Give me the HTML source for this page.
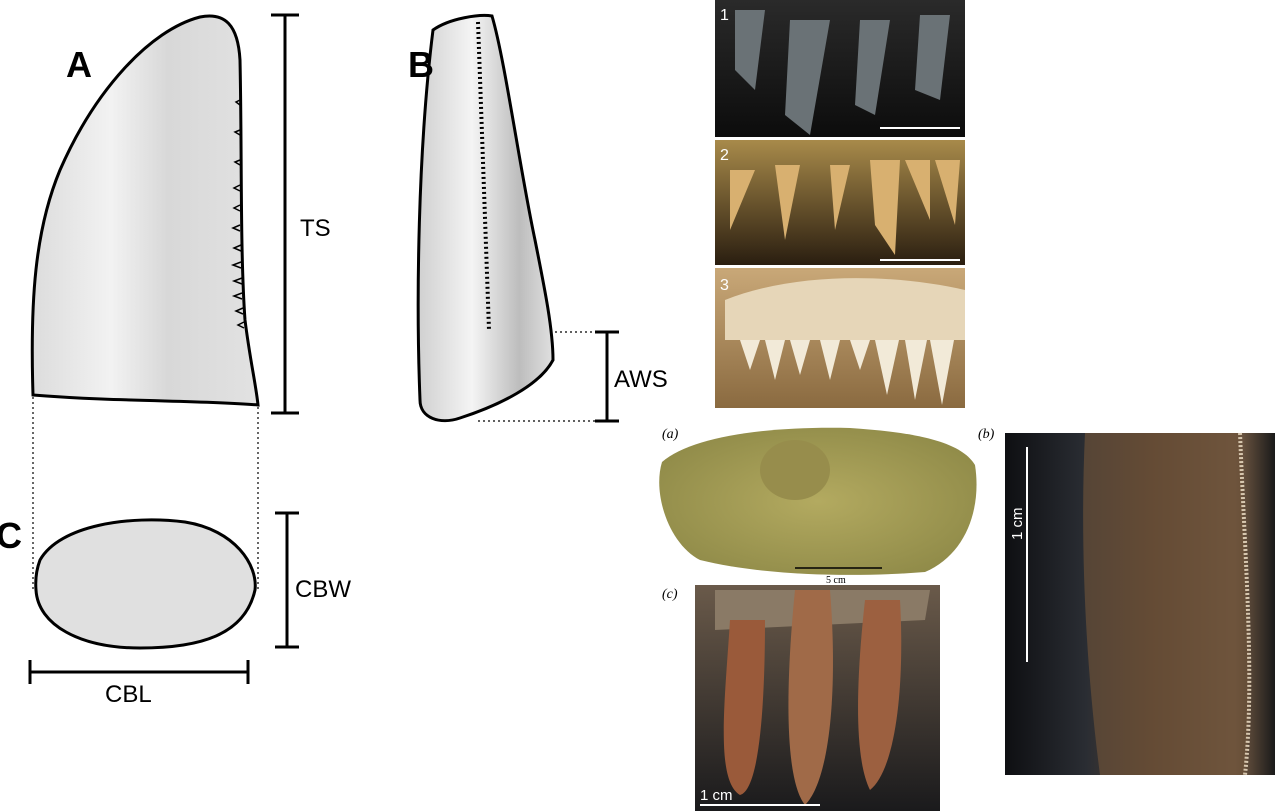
<!DOCTYPE html>
<html><head><meta charset="utf-8"><style>
html,body{margin:0;padding:0;background:#fff;}
body{width:1278px;height:811px;overflow:hidden;position:relative;font-family:"Liberation Sans",sans-serif;}
svg{position:absolute;left:0;top:0;}
</style></head><body>
<svg width="1278" height="811" viewBox="0 0 1278 811">
<defs>
<linearGradient id="gA" x1="0" x2="1" y1="0" y2="0">
<stop offset="0" stop-color="#dcdcdc"/><stop offset="0.35" stop-color="#f2f2f2"/><stop offset="0.6" stop-color="#d8d8d8"/><stop offset="1" stop-color="#e2e2e2"/></linearGradient>
<linearGradient id="gB" x1="0" x2="1" y1="0" y2="0">
<stop offset="0" stop-color="#d0d0d0"/><stop offset="0.4" stop-color="#f4f4f4"/><stop offset="0.75" stop-color="#bdbdbd"/><stop offset="1" stop-color="#e0e0e0"/></linearGradient>
<linearGradient id="p1" x1="0" x2="0" y1="0" y2="1"><stop offset="0" stop-color="#2a2a2a"/><stop offset="1" stop-color="#0c0c0c"/></linearGradient>
<linearGradient id="p2" x1="0" x2="0" y1="0" y2="1"><stop offset="0" stop-color="#a88a4a"/><stop offset="1" stop-color="#2a1e10"/></linearGradient>
<linearGradient id="p3" x1="0" x2="0" y1="0" y2="1"><stop offset="0" stop-color="#c9a878"/><stop offset="1" stop-color="#8a6a40"/></linearGradient>
<radialGradient id="pa" cx="0.5" cy="0.5" r="0.6"><stop offset="0" stop-color="#b3aa60"/><stop offset="1" stop-color="#8f8a48"/></radialGradient>
<linearGradient id="pc" x1="0" x2="0" y1="0" y2="1"><stop offset="0" stop-color="#6a5a4a"/><stop offset="1" stop-color="#1a1a1c"/></linearGradient>
<linearGradient id="pb" x1="0" x2="1" y1="0" y2="0"><stop offset="0" stop-color="#0e0f12"/><stop offset="0.3" stop-color="#2a2d33"/><stop offset="0.55" stop-color="#5a4230"/><stop offset="0.85" stop-color="#7b6048"/><stop offset="1" stop-color="#1a1a1a"/></linearGradient>
</defs>

<path d="M33,395 C30,300 35,230 60,170 C95,90 150,30 200,17 C225,12 238,25 240,60 C242,150 240,250 245,320 C250,360 256,385 258,405 C200,400 120,402 33,395 Z" fill="url(#gA)" stroke="#000" stroke-width="3"/>
<path d="M240,100 l-4,2 l4,3 M240,130 l-5,2 l5,3 M240,160 l-5,2 l5,3 M240,185 l-6,3 l6,3 M240,205 l-6,3 l6,3 M240,225 l-7,3 l7,3 M241,245 l-7,3 l7,3 M241,262 l-8,3 l8,3 M242,278 l-8,3 l8,3 M242,293 l-8,3 l8,3 M243,308 l-7,3 l7,3 M244,322 l-6,3 l6,3" fill="none" stroke="#000" stroke-width="1.5"/>
<text x="66" y="77" font-size="36" font-weight="bold">A</text>

<g stroke="#000" stroke-width="3">
<line x1="285" y1="15" x2="285" y2="413"/><line x1="271" y1="15" x2="299" y2="15"/><line x1="271" y1="413" x2="299" y2="413"/></g>
<text x="300" y="236" font-size="24">TS</text>

<g stroke="#000" stroke-width="1.2" stroke-dasharray="2,3">
<line x1="33" y1="397" x2="33" y2="590"/><line x1="258" y1="407" x2="258" y2="590"/>
<line x1="490" y1="332" x2="607" y2="332"/><line x1="478" y1="421" x2="607" y2="421"/></g>

<path d="M40,560 C60,525 130,515 185,522 C235,530 258,565 255,590 C245,635 200,648 140,648 C80,648 38,625 36,590 C35,578 37,568 40,560 Z" fill="#e0e0e0" stroke="#000" stroke-width="3"/>
<text x="-4" y="548" font-size="36" font-weight="bold">C</text>
<g stroke="#000" stroke-width="3">
<line x1="287" y1="513" x2="287" y2="647"/><line x1="275" y1="513" x2="299" y2="513"/><line x1="275" y1="647" x2="299" y2="647"/></g>
<text x="295" y="597" font-size="24">CBW</text>
<g stroke="#000" stroke-width="3">
<line x1="30" y1="672" x2="248" y2="672"/><line x1="30" y1="660" x2="30" y2="684"/><line x1="248" y1="660" x2="248" y2="684"/></g>
<text x="105" y="702" font-size="24">CBL</text>

<path d="M433,30 C450,18 480,14 492,16 C505,60 520,170 535,240 C545,290 553,330 553,360 C540,385 500,405 460,418 C440,425 420,418 420,400 C416,300 418,150 433,30 Z" fill="url(#gB)" stroke="#000" stroke-width="3"/>
<line x1="478" y1="22" x2="489" y2="330" stroke="#000" stroke-width="4" stroke-dasharray="2,3"/>
<text x="408" y="77" font-size="36" font-weight="bold">B</text>
<g stroke="#000" stroke-width="3">
<line x1="607" y1="332" x2="607" y2="421"/><line x1="595" y1="332" x2="619" y2="332"/><line x1="595" y1="421" x2="619" y2="421"/></g>
<text x="614" y="387" font-size="24">AWS</text>

<g>
<rect x="715" y="0" width="250" height="137" fill="url(#p1)"/>
<path d="M735,10 l30,0 l-10,80 l-20,-20 Z M790,20 l40,0 l-20,115 l-25,-20 Z M860,20 l30,0 l-15,95 l-20,-10 Z M920,15 l30,0 l-10,85 l-25,-10 Z" fill="#6a7276"/>
<line x1="880" y1="128" x2="960" y2="128" stroke="#fff" stroke-width="2"/>
<text x="720" y="20" font-size="16" fill="#fff">1</text>
<rect x="715" y="140" width="250" height="125" fill="url(#p2)"/>
<path d="M730,170 l25,0 l-25,60 Z M775,165 l25,0 l-15,75 Z M830,165 l20,0 l-15,65 Z M870,160 l30,0 l-5,95 l-20,-30 Z M905,160 l25,0 l0,60 Z M935,160 l25,0 l-5,65 Z" fill="#d8b070"/>
<line x1="880" y1="260" x2="960" y2="260" stroke="#fff" stroke-width="2"/>
<text x="720" y="160" font-size="16" fill="#fff">2</text>
<rect x="715" y="268" width="250" height="140" fill="url(#p3)"/>
<path d="M725,300 C800,270 900,275 965,290 L965,340 L725,340 Z" fill="#e6d6b8"/>
<path d="M740,340 l10,30 l10,-30 M765,340 l10,40 l10,-40 M790,340 l10,35 l10,-35 M820,340 l10,40 l10,-40 M850,340 l10,30 l10,-30 M875,340 l12,55 l12,-55 M905,340 l10,60 l12,-60 M930,340 l12,65 l12,-65" fill="#f2ead8"/>
<text x="720" y="290" font-size="16" fill="#fff">3</text>
</g>

<text x="662" y="438" font-size="14" font-style="italic" font-family="Liberation Serif">(a)</text>
<path d="M662,462 C690,438 760,426 850,428 C910,432 960,440 975,465 C982,510 965,555 925,572 C850,578 760,575 700,560 C670,545 652,495 662,462 Z" fill="url(#pa)"/>
<ellipse cx="795" cy="470" rx="35" ry="30" fill="#978d4c"/>
<line x1="795" y1="568" x2="882" y2="568" stroke="#000" stroke-width="1.5"/>
<text x="826" y="583" font-size="10" font-family="Liberation Serif">5 cm</text>
<text x="662" y="598" font-size="14" font-style="italic" font-family="Liberation Serif">(c)</text>
<g>
<rect x="695" y="585" width="245" height="226" fill="url(#pc)"/>
<path d="M715,590 L930,590 L925,620 L715,630 Z" fill="#8a7a66"/>
<path d="M730,620 C725,700 715,780 740,795 C760,790 765,700 765,620 Z" fill="#9a5a3a"/>
<path d="M795,590 C785,690 785,780 805,805 C830,780 838,690 830,590 Z" fill="#a06a48"/>
<path d="M865,600 C855,690 855,760 870,790 C895,770 905,690 900,600 Z" fill="#9c6040"/>
<line x1="700" y1="805" x2="820" y2="805" stroke="#fff" stroke-width="2"/>
<text x="700" y="800" font-size="15" fill="#fff">1 cm</text>
</g>
<text x="978" y="438" font-size="14" font-style="italic" font-family="Liberation Serif">(b)</text>
<g>
<rect x="1005" y="433" width="270" height="342" fill="url(#pb)"/>
<path d="M1085,433 L1240,433 C1245,560 1255,680 1245,775 L1100,775 C1085,660 1080,540 1085,433 Z" fill="#6a5038" opacity="0.7"/>
<path d="M1240,433 C1245,560 1255,680 1245,775" stroke="#d8c8b0" stroke-width="4" stroke-dasharray="2,2" fill="none"/>
<line x1="1027" y1="447" x2="1027" y2="662" stroke="#fff" stroke-width="2"/>
<text x="1022" y="540" font-size="15" fill="#fff" transform="rotate(-90 1022 540)">1 cm</text>
</g>
</svg>
</body></html>
